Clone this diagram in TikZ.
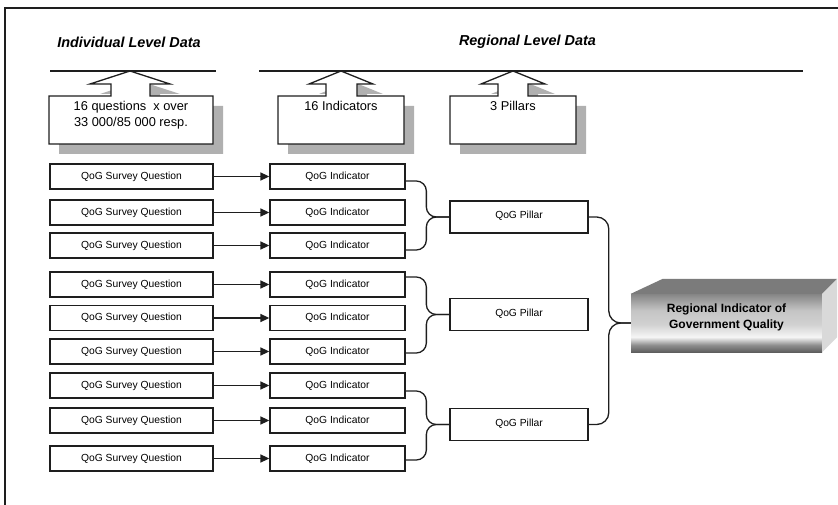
\documentclass[tikz,border=0pt]{standalone}
\usepackage{fontspec}
\setmainfont{Liberation Sans}
\usetikzlibrary{arrows.meta,calc}

\definecolor{ink}{HTML}{1E1E1E}
\definecolor{shadowgray}{HTML}{B0B0B0}
\definecolor{rf0}{HTML}{5E5E5E}
\definecolor{rf1}{HTML}{8E8E8E}
\definecolor{rf2}{HTML}{F6F6F6}
\definecolor{rf3}{HTML}{D2D2D2}
\definecolor{rf4}{HTML}{C4C4C4}
\definecolor{rf5}{HTML}{858585}
\definecolor{rtop}{HTML}{7B7B7B}
\definecolor{rside}{HTML}{D9D9D9}

% front face of the 3-D result box: dark edges, bright band near the bottom
\pgfdeclareverticalshading{regfront}{100bp}{%
  color(0bp)=(rf0); color(25bp)=(rf0); color(31bp)=(rf1); color(38bp)=(rf2);
  color(48.5bp)=(rf3); color(61bp)=(rf4); color(75bp)=(rf5); color(100bp)=(rf5)}

% upward block arrow with a drop shadow:
% #1 box left, #2 box right, #3/#4 shaft left/right, #5/#6 head left/right, #7 tip x
\newcommand\upblock[7]{%
  \fill[shadowgray,shift={(10,-10)}]
    (#1,-144) -- (#1,-96) -- (#3,-96) -- (#3,-84) -- (#5,-84) -- (#7,-71)
    -- (#6,-84) -- (#4,-84) -- (#4,-96) -- (#2,-96) -- (#2,-144) -- cycle;
  \draw[draw=ink,line width=1.3pt,fill=white,line join=miter]
    (#1,-144) -- (#1,-96) -- (#3,-96) -- (#3,-84) -- (#5,-84) -- (#7,-71)
    -- (#6,-84) -- (#4,-84) -- (#4,-96) -- (#2,-96) -- (#2,-144) -- cycle;}

\begin{document}
\begin{tikzpicture}[x=1pt,y=1pt,
  box/.style={draw=ink,line width=1.3pt,fill=white,inner sep=0pt,
    font=\fontsize{10.3}{12}\selectfont},
  qbox/.style={box,minimum width=163pt,minimum height=25pt},
  ibox/.style={box,minimum width=135pt,minimum height=25pt},
  pbox/.style={box,minimum width=138pt,minimum height=32pt},
  title/.style={font=\fontsize{14.4}{16}\selectfont\bfseries\itshape,inner sep=0pt},
  blocktext/.style={font=\fontsize{12.8}{16}\selectfont,align=center,inner sep=0pt,anchor=north},
  feed/.style={draw=ink,line width=1.5pt,-{Triangle[length=9pt,width=8pt]}},
  joiner/.style={draw=ink,line width=1.3pt,rounded corners=10pt},
  rule/.style={draw=ink,line width=1.2pt}]

\useasboundingbox (0,0) rectangle (838,-505);

% frame
\draw[rule,line width=1.4pt] (5,-505) -- (5,-8) -- (838,-8);

% level headings and their rules
\node[title] (tind) at (129,-42) {Individual Level Data};
\node[title] (treg) at (527.5,-42) {Regional Level Data};
\draw[rule] (50,-71) -- (216,-71);
\draw[rule] (259,-71) -- (803,-71);

% block arrows pointing up to the rules
\upblock{49}{213}{111}{150}{90}{170}{130}
\upblock{278}{404}{326}{357}{309}{373}{341}
\upblock{450}{576}{498}{528}{481}{545}{513}
\node[blocktext] (hq) at (131,-101) {16 questions\ \ x over\\33 000/85 000 resp.};
\node[blocktext] (hi) at (341,-101) {16 Indicators};
\node[blocktext] (hp) at (513,-101) {3 Pillars};

% survey questions and indicators
\foreach \k/\y in {1/176.5,2/212.5,3/245.5,4/284.5,5/318,6/351.5,7/385.5,8/420.5,9/458.5}{
  \node[qbox] (q\k) at (131.5,-\y) {QoG Survey Question};
  \node[ibox] (i\k) at (337.5,-\y) {QoG Indicator};
  \draw[feed] (q\k.east) -- (i\k.west);
}

% pillars
\node[pbox] (p1) at (519,-217) {\raisebox{4pt}{QoG Pillar}};
\node[pbox] (p2) at (519,-314.5) {\raisebox{4pt}{QoG Pillar}};
\node[pbox] (p3) at (519,-424.5) {\raisebox{4pt}{QoG Pillar}};

% indicators joined into pillars
\draw[joiner] ([yshift=-4.5]i1.east) -| ([xshift=-23]p1.west) -- (p1.west);
\draw[joiner] ([yshift=-4.5]i3.east) -| ([xshift=-23]p1.west) -- (p1.west);
\draw[joiner] ([yshift=7.5]i4.east) -| ([xshift=-23]p2.west) -- (p2.west);
\draw[joiner] ([yshift=-1.5]i6.east) -| ([xshift=-23]p2.west) -- (p2.west);
\draw[joiner] ([yshift=-5.5]i7.east) -| ([xshift=-23]p3.west) -- (p3.west);
\draw[joiner] ([yshift=-1.5]i9.east) -| ([xshift=-23]p3.west) -- (p3.west);

% 3-D result box
\node[shading=regfront,minimum width=191pt,minimum height=58pt,inner sep=0pt]
  (reg) at (726.5,-323) {};
\fill[rtop] (reg.north west) -- ++(32,15) -- ([shift={(15,15)}]reg.north east)
  -- (reg.north east) -- cycle;
\fill[rside] (reg.north east) -- ++(15,15) -- ([shift={(15,15)}]reg.south east)
  -- (reg.south east) -- cycle;
\node[font=\fontsize{12}{16}\selectfont\bfseries,align=center,inner sep=0pt]
  (regtext) at ([yshift=6]reg.center) {Regional Indicator of\\Government Quality};

% pillars joined into the regional indicator
\draw[joiner,rounded corners=12pt] (p1.east) -| ([xshift=-22]reg.west) -- (reg.west);
\draw[joiner,rounded corners=12pt] (p3.east) -| ([xshift=-22]reg.west) -- (reg.west);
\end{tikzpicture}
\end{document}
